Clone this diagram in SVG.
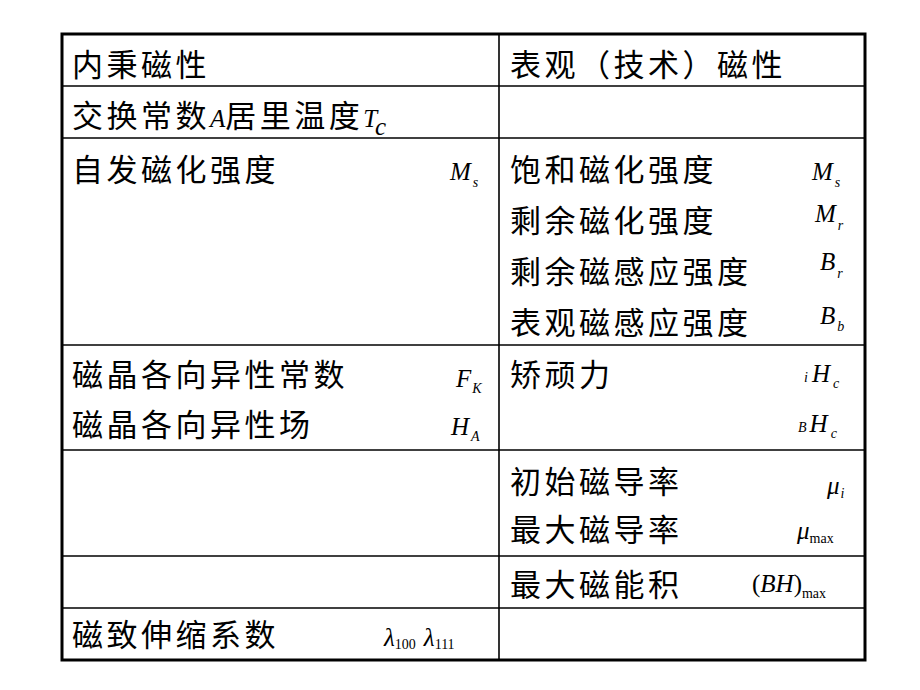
<svg xmlns="http://www.w3.org/2000/svg" width="920" height="690" viewBox="0 0 920 690">
<style>
.c{font-family:"Liberation Sans","Noto Sans CJK SC",sans-serif;font-size:31px;letter-spacing:3.5px;fill:#000}
.m{font-family:"Liberation Serif",serif;font-style:italic;font-size:25px;fill:#000}
.s{font-size:14px}
.u{font-style:normal;font-size:14px}
.l{stroke:#000;stroke-width:1.6;fill:none}
</style>
<rect width="920" height="690" fill="#fff"/>
<g id="grid">
<rect x="62" y="34" width="803" height="626" fill="none" stroke="#000" stroke-width="3"/>
<line class="l" x1="499" y1="34" x2="499" y2="660"/>
<line class="l" x1="62" y1="86" x2="865" y2="86"/>
<line class="l" x1="62" y1="138" x2="865" y2="138"/>
<line class="l" x1="62" y1="345" x2="865" y2="345"/>
<line class="l" x1="62" y1="450" x2="865" y2="450"/>
<line class="l" x1="62" y1="556" x2="865" y2="556"/>
<line class="l" x1="62" y1="608" x2="865" y2="608"/>
</g>
<g id="left">
<text class="c" x="72" y="76">内秉磁性</text>
<text class="c" x="72" y="127">交换常数<tspan class="m" font-size="30" letter-spacing="0">A</tspan>居里温度<tspan class="m" font-size="30" letter-spacing="0">T</tspan><tspan class="m" font-size="18" dy="8" letter-spacing="0">c</tspan></text>
<text class="c" x="72" y="181">自发磁化强度</text>
<text class="m" x="450" y="180">M<tspan class="s" dy="7" dx="2">s</tspan></text>
<text class="c" x="72" y="386">磁晶各向异性常数</text>
<text class="m" x="456" y="387">F<tspan class="s" dy="6" dx="1">K</tspan></text>
<text class="c" x="72" y="436">磁晶各向异性场</text>
<text class="m" x="451" y="435">H<tspan class="s" dy="6" dx="2">A</tspan></text>
<text class="c" x="72" y="646">磁致伸缩系数</text>
<text class="m" x="384" y="646">λ<tspan class="u" dy="3">100</tspan><tspan dy="-3" dx="8">λ</tspan><tspan class="u" dy="3">111</tspan></text>
</g>
<g id="right">
<text class="c" x="510" y="76">表观（技术）磁性</text>
<text class="c" x="510" y="181">饱和磁化强度</text>
<text class="m" x="812" y="180">M<tspan class="s" dy="7" dx="2">s</tspan></text>
<text class="c" x="510" y="232">剩余磁化强度</text>
<text class="m" x="815" y="222">M<tspan class="s" dy="8" dx="2">r</tspan></text>
<text class="c" x="510" y="283">剩余磁感应强度</text>
<text class="m" x="820" y="270">B<tspan class="s" dy="8" dx="2">r</tspan></text>
<text class="c" x="510" y="334">表观磁感应强度</text>
<text class="m" x="820" y="324">B<tspan class="s" dy="7" dx="2">b</tspan></text>
<text class="c" x="510" y="386">矫顽力</text>
<text class="m" x="804" y="382"><tspan class="s">i</tspan><tspan dx="4">H</tspan><tspan class="s" dy="6" dx="3">c</tspan></text>
<text class="m" x="798" y="432"><tspan class="s">B</tspan><tspan dx="3">H</tspan><tspan class="s" dy="6" dx="3">c</tspan></text>
<text class="c" x="510" y="493">初始磁导率</text>
<text class="m" x="827" y="494">μ<tspan class="s" dy="4" dx="1">i</tspan></text>
<text class="c" x="510" y="541">最大磁导率</text>
<text class="m" x="797" y="539">μ<tspan class="u" dy="4">max</tspan></text>
<text class="c" x="510" y="596">最大磁能积</text>
<text class="m" x="752" y="592"><tspan font-style="normal">(</tspan>BH<tspan font-style="normal">)</tspan><tspan class="u" dy="6">max</tspan></text>
</g>
</svg>
